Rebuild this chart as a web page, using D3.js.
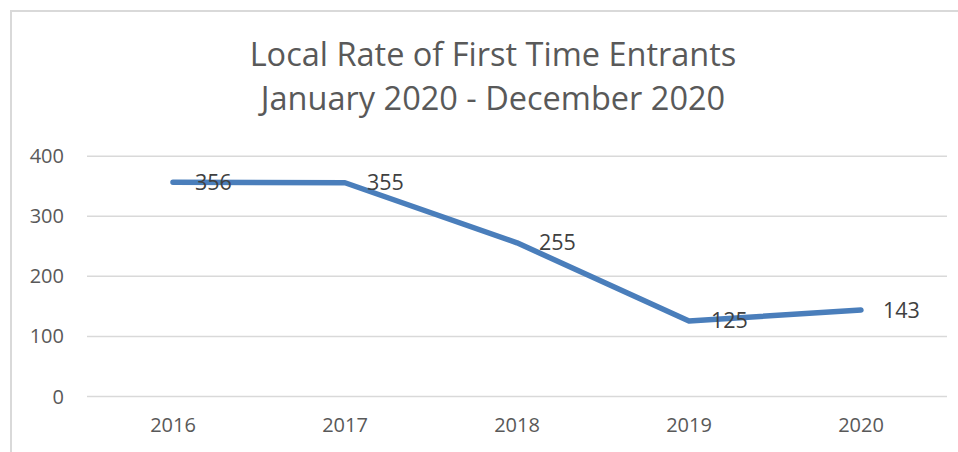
<!DOCTYPE html>
<html><head><meta charset="utf-8">
<script src="https://cdn.jsdelivr.net/npm/d3@7"></script>
<style>body{margin:0;background:#fff}svg{display:block}text{font-family:"Open Sans",sans-serif}</style>
</head><body><svg id="c" width="958" height="452"></svg>
<script>
const categories = ["2016","2017","2018","2019","2020"];
const values = [356, 355, 255, 125, 143];
const yTicks = [0, 100, 200, 300, 400];
const titleLines = ["Local Rate of First Time Entrants", "January 2020 - December 2020"];

const svg = d3.select("#c");
svg.append("rect").attr("width",958).attr("height",452).attr("fill","#fff");
svg.append("rect").attr("x",11).attr("y",11).attr("width",980).attr("height",480)
  .attr("fill","none").attr("stroke","#d9d9d9").attr("stroke-width",2);

const x = d3.scaleBand().domain(categories).range([87,947]);
const y = d3.scaleLinear().domain([0,400]).range([396,155.7]);

svg.append("g").selectAll("text").data(titleLines).join("text")
  .attr("x",493).attr("y",(d,i)=>66+i*44).attr("text-anchor","middle")
  .attr("fill","#595959").attr("font-size",32.5).text(d=>d);

const yAxis = d3.axisLeft(y).tickValues(yTicks).tickSize(-(947-87)).tickPadding(23);
const gy = svg.append("g").attr("transform","translate(87,0)").call(yAxis);
gy.select(".domain").remove();
gy.selectAll(".tick line").attr("stroke","#d9d9d9").attr("stroke-width",1.5);
gy.selectAll(".tick text").attr("fill","#595959").attr("font-size",20).attr("font-family","Open Sans").attr("dy","0.35em");

const xAxis = d3.axisBottom(x).tickSize(0).tickPadding(22);
const gx = svg.append("g").attr("transform","translate(0,396)").call(xAxis);
gx.select(".domain").remove();
gx.selectAll(".tick text").attr("fill","#595959").attr("font-size",20).attr("font-family","Open Sans");

const line = d3.line().x((d,i)=>x(categories[i])+x.bandwidth()/2).y(d=>y(d));
svg.append("path").datum(values).attr("d",line).attr("fill","none")
  .attr("stroke","#4a7ebb").attr("stroke-width",5.5).attr("stroke-linecap","round").attr("stroke-linejoin","round");

svg.append("g").selectAll("text").data(values).join("text")
  .attr("x",(d,i)=>x(categories[i])+x.bandwidth()/2+22)
  .attr("y",d=>y(d)).attr("dy","0.35em")
  .attr("fill","#404040").attr("font-size",21.5).text(d=>d);
</script></body></html>
